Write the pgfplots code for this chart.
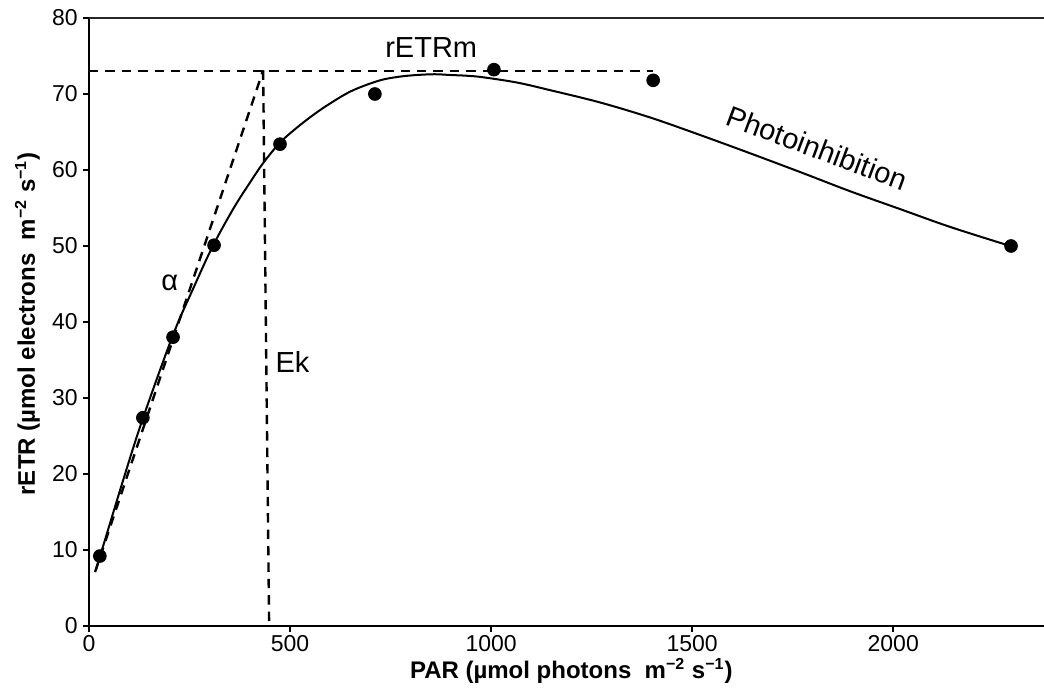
\documentclass[border=0pt]{standalone}
\usepackage{fontspec}
\setmainfont{Liberation Sans}
\usepackage{pgfplots}
\usepackage{pgfplotstable}
\pgfplotsset{compat=1.18}
\pgfplotstableread{
x y
27 9.2
134 27.4
209 38.0
311 50.1
475 63.4
711 70.0
1007 73.2
1403 71.8
2293 50.0
}\pts
\pgfplotstableread{
x y
18 7.5
85 19.2
134 27.3
209 38.3
260 44.5
308 50.0
360 55.0
401 58.4
433 60.9
475 63.6
520 65.7
567 67.6
610 69.1
649 70.3
690 71.2
731 71.9
775 72.3
816 72.5
860 72.6
898 72.5
940 72.4
980 72.2
1065 71.5
1147 70.5
1270 68.9
1396 66.9
1520 64.6
1644 62.2
1770 59.7
1893 57.2
2020 54.8
2142 52.5
2291 50.0
}\fit
\begin{document}
\begin{tikzpicture}
\begin{axis}[
  scale only axis, width=477.5pt, height=304pt,
  xmin=0, xmax=2375, ymin=0, ymax=80,
  axis x line*=bottom, axis y line*=left,
  axis line style={line width=1.3pt, -},
  xtick={0,500,1000,1500,2000}, ytick={0,10,...,80},
  tick align=outside, major tick length=3pt,
  tick style={line width=1.2pt, black},
  /pgf/number format/assume math mode=true,
  /pgf/number format/1000 sep={},
  ticklabel style={font=\fontsize{11.5}{14}\selectfont},
  xticklabel style={inner sep=1.5pt},
  yticklabel style={inner sep=2.5pt},
  xlabel={PAR (µmol photons\ \ m\textsuperscript{−2} s\textsuperscript{−1})},
  ylabel={rETR (µmol electrons\ \ m\textsuperscript{−2} s\textsuperscript{−1})},
  label style={font=\bfseries\fontsize{12}{14}\selectfont},
  xlabel style={at={(axis description cs:0.505,-0.074)}, anchor=center},
  ylabel style={at={(axis description cs:-0.0644,0.497)}, anchor=center},
  clip=false,
]
\draw[line width=0.8pt, black!85] (rel axis cs:0,1) -- (rel axis cs:1,1);
\coordinate (bl) at (rel axis cs:0,0);
\coordinate (tr) at (rel axis cs:1,1);
\addplot[black, line width=1.2pt, dash pattern=on 4.7pt off 3.5pt] coordinates {(0,73) (1403,73)};
\addplot[black, line width=1.2pt, dash pattern=on 4.7pt off 3.5pt] coordinates {(15,7.1) (433,73.1)};
\addplot[black, line width=1.2pt, dash pattern=on 4.7pt off 3.5pt] coordinates {(433,73.1) (448,0)};
\addplot[black, line width=1pt, smooth, tension=0.55] table {\fit};
\addplot[only marks, mark=*, mark size=3.2pt, black] table {\pts};
\node[font=\fontsize{14.5}{17}\selectfont] at (axis cs:851,76.05) {rETRm};
\node[font=\fontsize{14.5}{17}\selectfont] at (axis cs:201,45.1) {α};
\node[font=\fontsize{14.5}{17}\selectfont, anchor=west, inner sep=0pt] at (axis cs:463,34.7) {Ek};
\node[font=\fontsize{14.5}{17}\selectfont, rotate=-20.5] at (axis cs:1811,62.9) {Photoinhibition};
\end{axis}
\pgfresetboundingbox
\path ([xshift=-44.5pt,yshift=-32.5pt]bl) rectangle ([yshift=9pt]tr);
\end{tikzpicture}
\end{document}
